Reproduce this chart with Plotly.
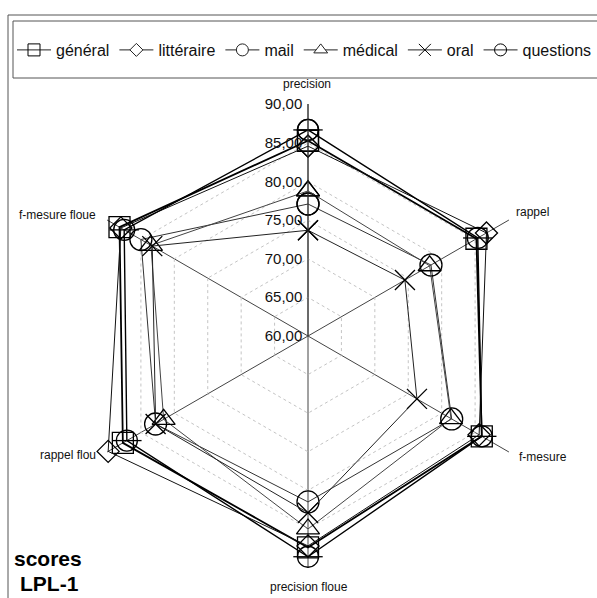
import plotly.graph_objects as go

# Radar axes, clockwise from the top
criteria = ["precision", "rappel", "f-mesure", "precision floue", "rappel flou", "f-mesure floue"]

# Scores per corpus, in the order of `criteria`
general = [85.3, 85.2, 86.0, 87.4, 87.7, 88.2]
litteraire = [84.6, 86.7, 85.6, 87.2, 89.9, 88.0]
mail = [77.1, 78.4, 81.5, 81.5, 82.8, 85.0]
medical = [78.8, 78.2, 81.4, 85.0, 81.6, 83.5]
oral = [73.7, 74.5, 76.3, 82.9, 82.8, 83.3]
questions = [86.7, 85.4, 86.0, 88.6, 87.1, 87.5]

radial_ticks = [60, 65, 70, 75, 80, 85, 90]

W, H = 597, 598
FONT = "Arial, Liberation Sans, Helvetica, sans-serif"


def closed(vals):
    return list(vals) + [vals[0]]


theta = closed(criteria)

# name, values, chart symbol, chart size, line width, line colour,
# legend symbol, legend size, legend fill
series = [
    ("général", general, "square-open", 21, 1.8, "#000000", "square-open", 12, "black"),
    ("littéraire", litteraire, "diamond-open", 17, 1.0, "#111111", "diamond", 10, "white"),
    ("mail", mail, "circle-open", 22, 1.0, "#333333", "circle", 12, "white"),
    ("médical", medical, "triangle-up-open", 20, 1.0, "#444444", "triangle-up", 12, "white"),
    ("oral", oral, "x-thin-open", 20, 1.0, "#222222", "x-thin-open", 12, "black"),
    ("questions", questions, "circle-open", 21, 1.4, "#000000", "circle-open", 12, "black"),
]

fig = go.Figure()
for name, vals, symbol, size, lw, lc, *_ in series:
    fig.add_trace(go.Scatterpolar(
        r=closed(vals), theta=theta, name=name, legendgroup=name,
        mode="lines+markers", showlegend=False,
        line=dict(color=lc, width=lw),
        marker=dict(symbol=symbol, size=size, color="black",
                    line=dict(color="black", width=1.3)),
    ))

# horizontal bar inside the "questions" circles
fig.add_trace(go.Scatterpolar(
    r=questions, theta=criteria, mode="markers", showlegend=False,
    marker=dict(symbol="line-ew-open", size=21, color="black",
                line=dict(color="black", width=1.3)),
    hoverinfo="skip",
))

# legend entries with thin sample lines
for name, vals, symbol, size, lw, lc, lsym, lsize, lfill in series:
    fig.add_trace(go.Scatterpolar(
        r=[None], theta=[criteria[0]], name=name, legendgroup=name,
        mode="lines+markers",
        line=dict(color="#222222", width=1),
        marker=dict(symbol=lsym, size=lsize, color=lfill,
                    line=dict(color="#222222", width=1)),
    ))

cx, cy, R = 308, 336, 232

# axis names placed around the hexagon: (x, y, xanchor)
label_pos = [(307, 84, "center"), (514, 212, "left"), (517, 457, "left"),
             (309, 587, "center"), (98, 455, "right"), (98, 215, "right")]
annotations = [
    dict(text=name, xref="paper", yref="paper", x=x / W, y=1 - y / H,
         xanchor=xa, yanchor="middle", showarrow=False,
         font=dict(size=12, family=FONT, color="#111111"))
    for name, (x, y, xa) in zip(criteria, label_pos)
]
annotations += [
    dict(text="<b>scores</b>", xref="paper", yref="paper",
         x=12 / W, y=1 - 558 / H, xanchor="left", yanchor="middle",
         showarrow=False, font=dict(size=21, family=FONT, color="black")),
    dict(text="<b>LPL-1</b>", xref="paper", yref="paper",
         x=18 / W, y=1 - 583 / H, xanchor="left", yanchor="middle",
         showarrow=False, font=dict(size=21, family=FONT, color="black")),
]

fig.update_layout(
    width=W, height=H,
    margin=dict(l=0, r=0, t=0, b=0),
    paper_bgcolor="white",
    separators=",.",
    font=dict(family=FONT, color="black", size=12),
    polar=dict(
        domain=dict(x=[(cx - R) / W, (cx + R) / W],
                    y=[1 - (cy + R) / H, 1 - (cy - R) / H]),
        bgcolor="white",
        gridshape="linear",
        radialaxis=dict(
            range=[60, 90.06], tickvals=radial_ticks, tickformat=".2f",
            angle=90, side="counterclockwise", ticks="", tickangle=90,
            showline=True, linecolor="#333333", linewidth=1,
            gridcolor="#c4c4c4", griddash="3px,3px", gridwidth=1,
            tickfont=dict(size=15, color="#111111", family=FONT),
        ),
        angularaxis=dict(
            rotation=90, direction="clockwise",
            showline=False, ticks="", showticklabels=False,
            gridcolor="#444444", gridwidth=1,
        ),
    ),
    legend=dict(
        orientation="h", x=14 / W, xanchor="left",
        y=1 - 50 / H, yanchor="middle",
        font=dict(size=16, family=FONT, color="#111111"),
        itemsizing="trace", itemwidth=34,
        borderwidth=0, bgcolor="rgba(0,0,0,0)",
        tracegroupgap=0,
    ),
    shapes=[
        # outer frame
        dict(type="rect", xref="paper", yref="paper",
             x0=8 / W, x1=1.02, y0=-0.02, y1=1 - 15 / H,
             line=dict(color="#555555", width=1)),
        # legend box
        dict(type="rect", xref="paper", yref="paper",
             x0=13 / W, x1=1.02, y0=1 - 78 / H, y1=1 - 21 / H,
             line=dict(color="#555555", width=1)),
    ],
    annotations=annotations,
)

fig.write_html("out.html")
